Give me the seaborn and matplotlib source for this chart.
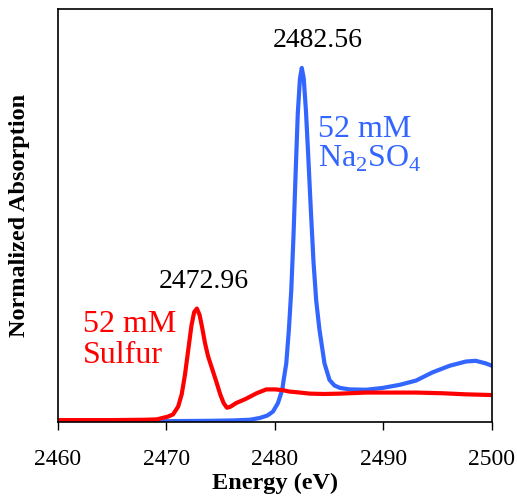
import matplotlib
matplotlib.use("Agg")
import matplotlib.pyplot as plt
import seaborn as sns
import pandas as pd

# 52 mM elemental sulfur
energy_sulfur = [2460, 2465, 2468, 2469.1, 2470.15, 2470.6, 2471.07, 2471.4, 2471.7,
                 2472.0, 2472.3, 2472.55, 2472.8, 2473.05, 2473.3, 2473.55, 2473.83,
                 2474.2, 2474.6, 2474.95, 2475.27, 2475.57, 2475.9, 2476.4, 2477.3,
                 2478.3, 2479.2, 2480.0, 2480.7, 2481.3, 2482.3, 2483.2, 2484.5, 2486,
                 2488.4, 2491, 2493, 2495.5, 2497.6, 2500]
abs_sulfur = [0.002, 0.002, 0.003, 0.004, 0.012, 0.018, 0.04, 0.075, 0.13,
              0.20, 0.27, 0.308, 0.318, 0.30, 0.262, 0.22, 0.183,
              0.148, 0.11, 0.075, 0.05, 0.037, 0.04, 0.05, 0.062,
              0.078, 0.089, 0.089, 0.087, 0.083, 0.08, 0.077, 0.076, 0.077,
              0.08, 0.08, 0.08, 0.078, 0.075, 0.073]

# 52 mM Na2SO4
energy_sulfate = [2460, 2470, 2474, 2476.1, 2477.7, 2478.6, 2479.3, 2479.81, 2480.27,
                  2480.67, 2480.8, 2481.04, 2481.28, 2481.5, 2481.7, 2481.9, 2482.1,
                  2482.3, 2482.47, 2482.65, 2482.85, 2483.05, 2483.3, 2483.55,
                  2483.8, 2484.1, 2484.56, 2485.02, 2485.48, 2486.0, 2486.9,
                  2488.4, 2489.9, 2491.5, 2493.0, 2494.5, 2496.1, 2497.6, 2498.5,
                  2499.4, 2500]
abs_sulfate = [-0.001, -0.001, 0.0, 0.001, 0.003, 0.008, 0.015, 0.026, 0.05,
               0.088, 0.116, 0.163, 0.258, 0.37, 0.52, 0.70, 0.87,
               0.97, 1.0, 0.97, 0.88, 0.76, 0.60, 0.45,
               0.34, 0.258, 0.163, 0.116, 0.100, 0.093, 0.089,
               0.088, 0.093, 0.102, 0.114, 0.137, 0.156, 0.168, 0.170,
               0.163, 0.156]

samples = ["52 mM Sulfur", "52 mM Na2SO4"]
peak_energies = [2472.96, 2482.56]
colors = {"52 mM Sulfur": "#FF0000", "52 mM Na2SO4": "#3366FF"}

df = pd.concat([
    pd.DataFrame({"Energy": energy_sulfate, "Abs": abs_sulfate, "sample": samples[1]}),
    pd.DataFrame({"Energy": energy_sulfur, "Abs": abs_sulfur, "sample": samples[0]}),
])

sns.set_style("ticks")
plt.rcParams["font.family"] = ["Liberation Serif", "DejaVu Serif"]
plt.rcParams["mathtext.fontset"] = "custom"
plt.rcParams["mathtext.rm"] = "Liberation Serif"

fig, ax = plt.subplots(figsize=(5.17, 4.97), dpi=100)
fig.subplots_adjust(left=0.1122, right=0.9516, bottom=0.1519, top=0.9819)

sns.lineplot(data=df, x="Energy", y="Abs", hue="sample", palette=colors,
             hue_order=[samples[1], samples[0]], sort=False, estimator=None,
             linewidth=3, legend=False, ax=ax)

ax.set_xlim(2460, 2500)
ax.set_ylim(-0.002, 1.167)
ax.set_xticks(range(2460, 2501, 10))
ax.set_yticks([])
ax.tick_params(axis="x", direction="out", length=6, width=1, pad=14,
               labelsize=17, color="black", labelcolor="black")
for s in ax.spines.values():
    s.set_visible(True)
    s.set_color("black")
    s.set_linewidth(1.2)

ax.set_xlabel("Energy (eV)", fontsize=17.5, fontweight="bold", color="black")
ax.set_ylabel("Normalized Absorption", fontsize=17.5, fontweight="bold", color="black")
ax.xaxis.set_label_coords(0.5, -0.124)
ax.yaxis.set_label_coords(-0.065, 0.5)

# peak positions
ax.text(2473.46, 0.376, f"{peak_energies[0]:.2f}", fontsize=20,
        ha="center", va="baseline", color="black")
ax.text(2483.92, 1.060, f"{peak_energies[1]:.2f}", fontsize=20,
        ha="center", va="baseline", color="black")

# sample labels
ax.text(2462.3, 0.252, "52 mM", fontsize=23, color=colors[samples[0]], va="baseline")
ax.text(2462.3, 0.164, "Sulfur", fontsize=23, color=colors[samples[0]], va="baseline")
ax.text(2484.0, 0.805, "52 mM", fontsize=23, color=colors[samples[1]], va="baseline")
ax.text(2484.0, 0.720, r"Na$_\mathrm{2}$SO$_\mathrm{4}$", fontsize=23,
        color=colors[samples[1]], va="baseline")

fig.savefig("out.png", dpi=100)
